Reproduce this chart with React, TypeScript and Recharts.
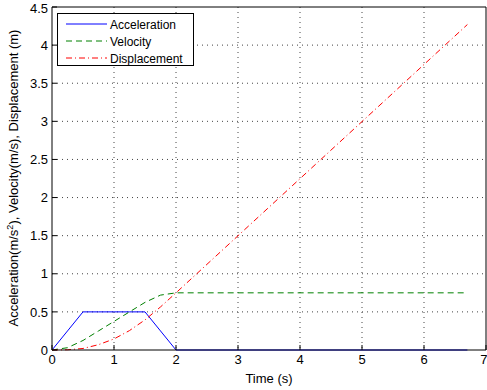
import React from 'react'
import {
  LineChart,
  Line,
  XAxis,
  YAxis,
  CartesianGrid,
  Legend,
  Label,
} from 'recharts'

// values
const time = [0, 0.25, 0.5, 0.75, 1, 1.25, 1.5, 1.75, 2, 6.7]
const acceleration = [0, 0.25, 0.5, 0.5, 0.5, 0.5, 0.5, 0.25, 0, 0]
const velocity = [0, 0.03, 0.125, 0.25, 0.375, 0.5, 0.625, 0.72, 0.75, 0.75]
const displacement = [0, 0.003, 0.02, 0.07, 0.145, 0.255, 0.395, 0.565, 0.75, 4.27]

const xTicks = [0, 1, 2, 3, 4, 5, 6, 7]
const yTicks = [0, 0.5, 1, 1.5, 2, 2.5, 3, 3.5, 4, 4.5]

const seriesInfo = [
  { key: 'acc', name: 'Acceleration', colour: '#0000ff', dash: undefined },
  { key: 'vel', name: 'Velocity', colour: '#008000', dash: '6 4' },
  { key: 'disp', name: 'Displacement', colour: '#ff0000', dash: '6 3 1 3' },
]

const data = time.map((t, i) => ({
  t,
  acc: acceleration[i],
  vel: velocity[i],
  disp: displacement[i],
}))

const font = '"Liberation Sans", Arial, Helvetica, sans-serif'
const tickStyle = { fontSize: 13, fill: '#000', fontFamily: font }

function LegendBox() {
  return (
    <svg width={137} height={53} style={{ display: 'block' }}>
      <rect x={0.5} y={0.5} width={136} height={52} fill="#fff" stroke="#000" />
      {seriesInfo.map((s, i) => {
        const y = 11 + i * 17
        return (
          <g key={s.key}>
            <line x1={9} x2={50} y1={y} y2={y} stroke={s.colour} strokeDasharray={s.dash} />
            <text x={53} y={y + 4.5} fontSize={12} fontFamily={font} fill="#000">
              {s.name}
            </text>
          </g>
        )
      })}
    </svg>
  )
}

function YLabel() {
  return (
    <text
      x={18}
      y={178}
      transform="rotate(-90 18 178)"
      textAnchor="middle"
      fontSize={13}
      fontFamily={font}
      fill="#000"
    >
      <tspan>Acceleration(m/s</tspan>
      <tspan dy={-5} fontSize={9}>2</tspan>
      <tspan dy={5}>), Velocity(m/s), Displacement (m)</tspan>
    </text>
  )
}

export default function App() {
  return (
    <div style={{ position: 'absolute', left: 0, top: 0, background: '#fff' }}>
      <LineChart
        width={487}
        height={390}
        data={data}
        margin={{ top: 6, right: 0, left: 0, bottom: 0 }}
      >
        <CartesianGrid
          stroke="#444"
          strokeDasharray="1 4"
          verticalValues={xTicks.slice(1, -1)}
          horizontalValues={yTicks.slice(1, -1)}
        />
        <XAxis
          dataKey="t"
          type="number"
          domain={[0, 7]}
          ticks={xTicks}
          height={40}
          tickSize={-5}
          tickMargin={10}
          axisLine={{ stroke: '#000' }}
          tickLine={{ stroke: '#000' }}
          tick={tickStyle}
        >
          <Label
            value="Time (s)"
            position="insideBottom"
            offset={7}
            style={{ fontSize: 13, fontFamily: font, fill: '#000' }}
          />
        </XAxis>
        <XAxis
          xAxisId="top"
          dataKey="t"
          type="number"
          orientation="top"
          domain={[0, 7]}
          ticks={xTicks}
          height={1}
          tickSize={-5}
          tick={false}
          axisLine={{ stroke: '#000' }}
          tickLine={{ stroke: '#000' }}
        />
        <YAxis
          type="number"
          domain={[0, 4.5]}
          ticks={yTicks}
          width={52}
          tickSize={-5}
          tickMargin={9}
          axisLine={{ stroke: '#000' }}
          tickLine={{ stroke: '#000' }}
          tick={tickStyle}
          label={{ content: () => <YLabel /> }}
        />
        <YAxis
          yAxisId="right"
          orientation="right"
          type="number"
          domain={[0, 4.5]}
          ticks={yTicks}
          width={1}
          tickSize={-5}
          tick={false}
          axisLine={{ stroke: '#000' }}
          tickLine={{ stroke: '#000' }}
        />
        <Legend
          layout="horizontal"
          verticalAlign="middle"
          align="center"
          wrapperStyle={{ left: 57, top: 13, width: 137, height: 53 }}
          content={() => <LegendBox />}
        />
        {seriesInfo.map((s) => (
          <Line
            key={s.key}
            type="linear"
            dataKey={s.key}
            name={s.name}
            stroke={s.colour}
            strokeWidth={1}
            strokeDasharray={s.dash}
            dot={false}
            activeDot={false}
            isAnimationActive={false}
          />
        ))}
      </LineChart>
    </div>
  )
}
